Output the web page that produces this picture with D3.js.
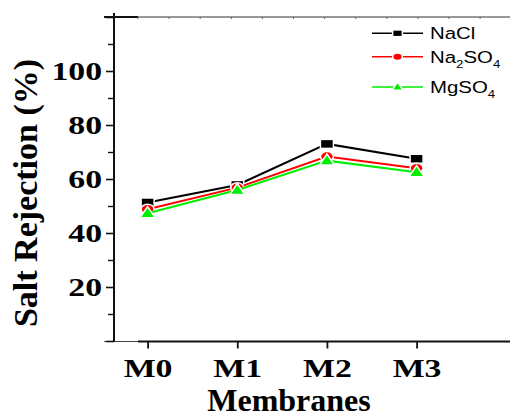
<!DOCTYPE html>
<html><head><meta charset="utf-8">
<script src="https://cdn.jsdelivr.net/npm/d3@7"></script>
<style>body{margin:0;background:#fff}svg{display:block}</style>
</head><body>
<svg id="c" width="510" height="419"></svg>
<script>
const categories = ["M0","M1","M2","M3"];
const nacl   = [51.3, 57.8, 73.0, 67.5];
const na2so4 = [48.8, 56.8, 68.3, 64.0];
const mgso4  = [47.3, 55.9, 66.8, 62.5];
const yTicks = [20, 40, 60, 80, 100];
const seriesNames = ["NaCl", "Na2SO4", "MgSO4"];

const svg = d3.select("#c");
const SX = 1.3;
const x = d3.scaleLinear().domain([0, 3]).range([147.6, 416.6]);
const y = d3.scaleLinear().domain([0, 120]).range([341, 17]);

// top axis (thin) with small ticks
const gTop = svg.append("g");
gTop.append("line").attr("x1",104).attr("x2",510).attr("y1",17).attr("y2",17).attr("stroke","#333").attr("stroke-width",1);
gTop.append("line").attr("x1",104).attr("x2",138).attr("y1",17).attr("y2",17).attr("stroke","#111").attr("stroke-width",1.8);
d3.range(12).forEach(i=>{
  const tx = 138 + i*31.1;
  gTop.append("line").attr("x1",tx).attr("x2",tx).attr("y1",17).attr("y2",19).attr("stroke","#666").attr("stroke-width",1);
});

// bottom axis
const xAxis = d3.axisBottom(x).tickValues([0,1,2,3]).tickFormat(i=>categories[i]).tickSize(7).tickSizeOuter(0);
const gx = svg.append("g").attr("transform","translate(0,341.5)").call(xAxis);
gx.select(".domain").remove();
gx.selectAll(".tick line").attr("stroke","#111").attr("stroke-width",1.8);
gx.selectAll(".tick text")
  .attr("font-family","'Liberation Serif','Times New Roman',serif").attr("font-weight","bold")
  .attr("font-size",26).attr("fill","#000").attr("dy",0).attr("y",36)
  .attr("transform",`scale(${SX},1)`)
  .attr("x", 0);
svg.append("line").attr("x1",104).attr("x2",138).attr("y1",341.5).attr("y2",341.5).attr("stroke","#444").attr("stroke-width",1);
svg.append("line").attr("x1",138).attr("x2",510).attr("y1",341.5).attr("y2",341.5).attr("stroke","#111").attr("stroke-width",2);

// left axis
const yAxis = d3.axisLeft(y).tickValues([0,20,40,60,80,100,120]).tickFormat(d=>yTicks.includes(d)?d:"").tickSize(8).tickSizeOuter(0);
const gy = svg.append("g").attr("transform","translate(114,0)").call(yAxis);
gy.select(".domain").remove();
gy.selectAll(".tick line").attr("stroke","#111").attr("stroke-width",1.6);
gy.selectAll(".tick text")
  .attr("font-family","'Liberation Serif','Times New Roman',serif").attr("font-weight","bold")
  .attr("font-size",25).attr("fill","#000").attr("dy","0.34em")
  .attr("x",-12/1.35).attr("transform",`scale(1.35,1)`);
const yMinor = d3.axisLeft(y).tickValues([10,30,50,70,90,110]).tickFormat("").tickSize(6).tickSizeOuter(0);
const gym = svg.append("g").attr("transform","translate(114,0)").call(yMinor);
gym.select(".domain").remove();
gym.selectAll(".tick line").attr("stroke","#111").attr("stroke-width",1.4);
svg.append("line").attr("x1",114).attr("x2",114).attr("y1",13).attr("y2",342).attr("stroke","#111").attr("stroke-width",2);

// axis titles
svg.append("text").attr("x",289).attr("y",411).attr("text-anchor","middle")
  .attr("font-family","'Liberation Serif','Times New Roman',serif").attr("font-weight","bold")
  .attr("font-size",32).attr("fill","#000").text("Membranes");
svg.append("text").attr("transform","translate(37,193) rotate(-90)").attr("text-anchor","middle")
  .attr("font-family","'Liberation Serif','Times New Roman',serif").attr("font-weight","bold")
  .attr("font-size",34).attr("fill","#000").text("Salt Rejection (%)");

// series
const series = [
  {name:"NaCl", values:nacl, color:"#000000", shape:"square"},
  {name:"Na2SO4", values:na2so4, color:"#ff0000", shape:"circle"},
  {name:"MgSO4", values:mgso4, color:"#00ee00", shape:"triangle"}
];
function marker(g, shape, cx, cy, color, scale){
  const s = scale || 1;
  if(shape==="square"){
    g.append("rect").attr("x",cx-6.5*s).attr("y",cy-4.5*s).attr("width",13*s).attr("height",9*s)
      .attr("fill",color).attr("stroke","#fff").attr("stroke-width",1.5);
  } else if(shape==="circle"){
    g.append("ellipse").attr("cx",cx).attr("cy",cy).attr("rx",6.5*s).attr("ry",5*s)
      .attr("fill",color).attr("stroke","#fff").attr("stroke-width",1.5);
  } else {
    const w=7.5*s, h=11*s;
    g.append("path").attr("d",`M${cx},${cy-h*0.6}L${cx+w},${cy+h*0.4}L${cx-w},${cy+h*0.4}Z`)
      .attr("fill",color).attr("stroke","#fff").attr("stroke-width",1.5);
  }
}
const line = d3.line().x((d,i)=>x(i)).y(d=>y(d));
series.forEach(s=>{
  const g = svg.append("g");
  g.append("path").datum(s.values).attr("d",line).attr("fill","none").attr("stroke",s.color).attr("stroke-width",2);
  s.values.forEach((v,i)=>marker(g, s.shape, x(i), y(v), s.color));
});

// legend
const legY = [33.3, 56.7, 87];
series.forEach((s,i)=>{
  const g = svg.append("g");
  g.append("line").attr("x1",372).attr("x2",423).attr("y1",legY[i]).attr("y2",legY[i]).attr("stroke",s.color).attr("stroke-width",1.5);
  marker(g, s.shape, 397.5, legY[i], s.color, 0.75);
  const t = g.append("g").attr("transform",`translate(430,${legY[i]+6})`).append("text")
    .attr("transform","scale(1.2,1)")
    .attr("font-family","'Liberation Sans',Arial,sans-serif").attr("font-size",17).attr("fill","#000");
  if(s.name==="NaCl"){ t.text("NaCl"); }
  else {
    const m = s.name.match(/^([A-Za-z]+?)(\d?)(SO)(\d)$/);
    t.append("tspan").text(m[1]);
    if(m[2]) t.append("tspan").attr("font-size",11).attr("dy",5).text(m[2]);
    t.append("tspan").attr("dy", m[2]? -5:0).text(m[3]);
    t.append("tspan").attr("font-size",11).attr("dy",5).text(m[4]);
  }
});
</script>
</body></html>
